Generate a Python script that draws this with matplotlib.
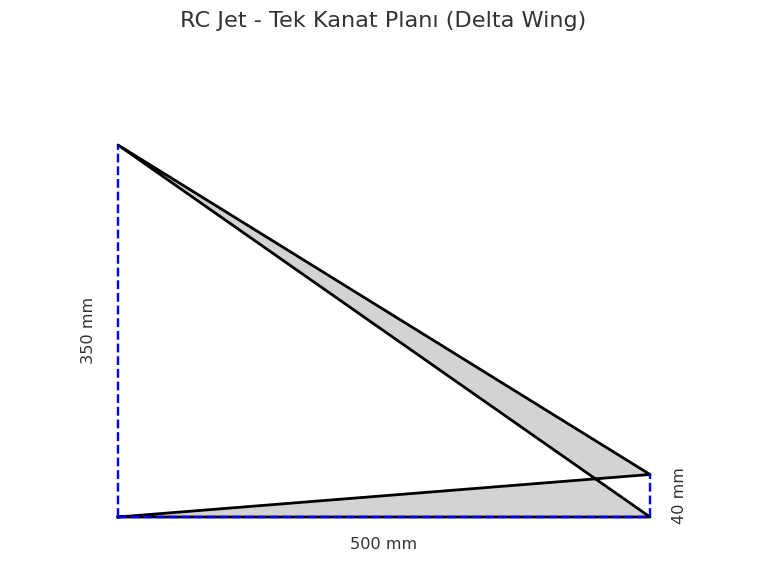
import matplotlib
matplotlib.use('Agg')
import matplotlib.pyplot as plt

# wing outline, mm
wing_x = [0, 500, 0, 500, 0]
wing_y = [0, 40, 350, 0, 0]

span_x = [0, 500]
span_y = [0, 0]
root_x = [0, 0]
root_y = [0, 350]
tip_x = [500, 500]
tip_y = [0, 40]

fig = plt.figure(figsize=(7.68, 5.82), dpi=100)
ax = fig.add_axes([0, 0, 1, 1])

ax.fill(wing_x, wing_y, color='lightgray', zorder=1)
ax.plot(wing_x, wing_y, color='black', lw=2, zorder=2)

# snap off so the dashed lines stay centred like the original
ax.plot(span_x, span_y, color='blue', ls='--', lw=1.72, zorder=3, snap=False)
ax.plot(root_x, root_y, color='blue', ls='--', lw=1.72, zorder=3, snap=False)
ax.plot(tip_x, tip_y, color='blue', ls='--', lw=1.72, zorder=3, snap=False)

ax.text(250, -26, '500 mm', ha='center', va='center', fontsize=11.6, color='#333333')
ax.text(-28, 175.5, '350 mm', ha='center', va='center', rotation=90, fontsize=11.6, color='#333333')
ax.text(528, 20, '40 mm', ha='center', va='center', rotation=90, fontsize=11.6, color='#333333')

# map data to pixels: x=0 at 118px, x=500 at 650px; y=0 at 517px, y=350 at 145px
ax.set_xlim(-118 / 1.064, (768 - 118) / 1.064)
ax.set_ylim(-(582 - 517) / 1.0629, 517 / 1.0629)
ax.axis('off')

fig.text(0.499, 0.964, 'RC Jet - Tek Kanat Planı (Delta Wing)', ha='center', va='center',
         fontsize=16.1, color='#333333')

fig.savefig('out.png', dpi=100)
